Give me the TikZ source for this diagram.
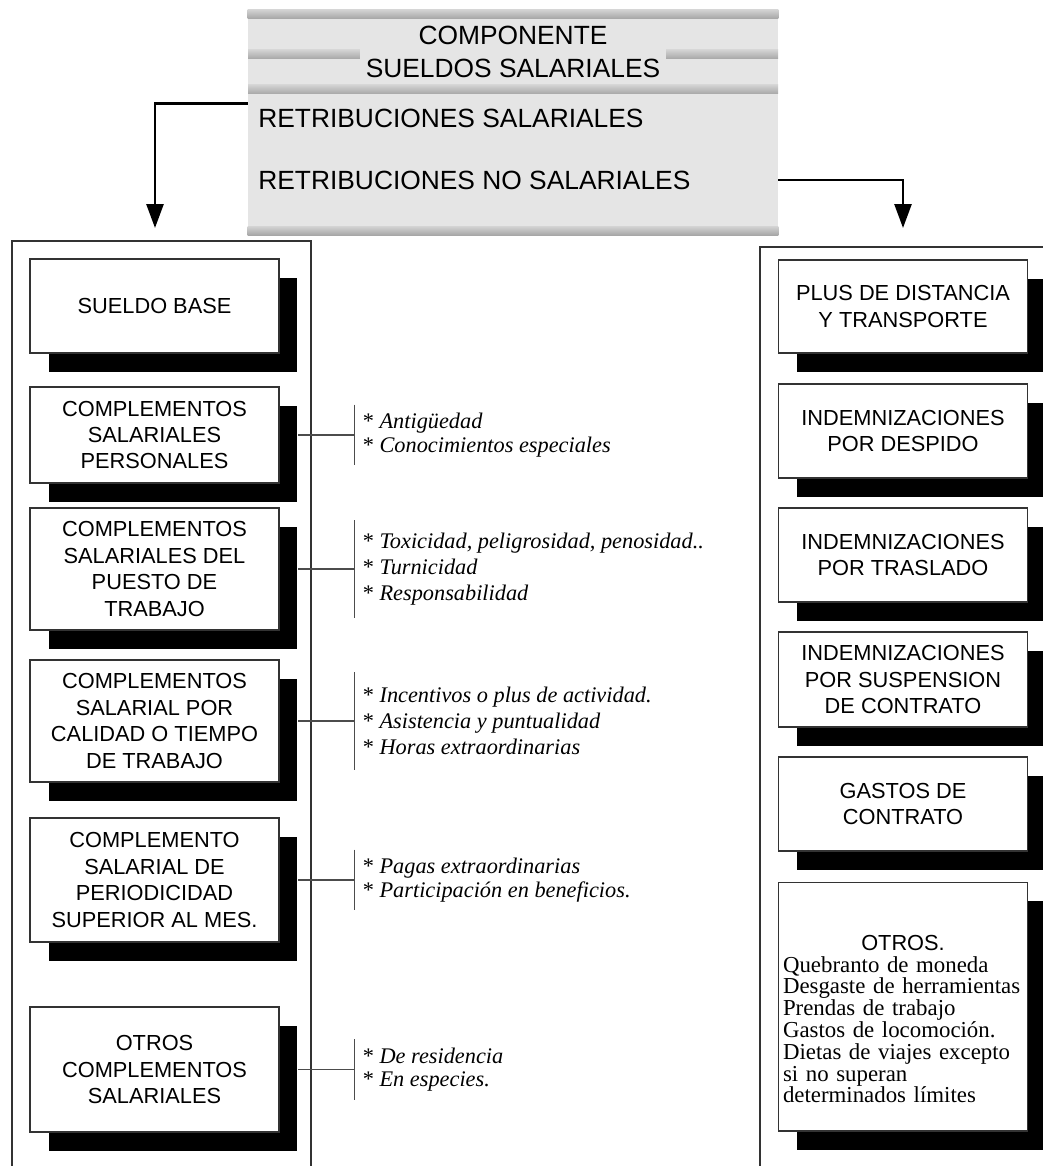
\documentclass[tikz,border=0pt]{standalone}
\usepackage{fontspec}
\setmainfont{Liberation Serif}
\setsansfont{Liberation Sans}
\usetikzlibrary{positioning,shadows,arrows.meta}

\tikzset{
  caja/.style={draw=black!80, line width=0.6pt, fill=white, align=center,
    font=\sffamily\fontsize{12.4}{15}\selectfont, minimum width=4.98cm, inner sep=2pt,
    drop shadow={shadow xshift=0.37cm, shadow yshift=-0.38cm, fill=black, opacity=1}},
  lista/.style={align=left, inner xsep=0.16cm, inner ysep=0pt,
    font=\fontsize{12.7}{13.5}\selectfont},
  lista2/.style={lista, minimum height=1.2cm},
  lista3/.style={lista, minimum height=1.94cm, font=\fontsize{12.7}{15}\selectfont},
  conector/.style={draw=black!70, line width=0.6pt},
  flecha/.style={line width=1.5pt, -{Triangle[length=0.48cm,width=0.34cm]}},
  marco/.style={draw=black!80, line width=0.6pt},
  franja/.style={top color=gray!35, middle color=gray!12, bottom color=gray!70},
  retrib/.style={anchor=west, inner sep=0.1cm, font=\sffamily\fontsize{15}{18}\selectfont}
}

\begin{document}
\lineskiplimit=-20pt
\begin{tikzpicture}[x=0.02cm, y=-0.02cm]
\useasboundingbox (0,0) rectangle (1043,1166);

% cabecera
\node[fill=gray!20, minimum width=10.6cm, minimum height=4.5cm, inner sep=0pt] (comp) at (513,122.5) {};
\shade[franja] (comp.north west) rectangle ([yshift=-0.18cm]comp.north east);
\shade[franja] (248,50) rectangle (778,59);
\shade[franja] (248,85) rectangle (778,94);
\shade[franja] ([yshift=0.18cm]comp.south west) rectangle (comp.south east);
\node[fill=gray!20, minimum width=6.04cm, minimum height=1.3cm, align=center,
  font=\sffamily\fontsize{15}{19}\selectfont] (tit) at (513,52) {COMPONENTE\\SUELDOS SALARIALES};
\node[retrib] (rs) at (253,118) {RETRIBUCIONES SALARIALES};
\node[retrib] (rns) at (253,180) {RETRIBUCIONES NO SALARIALES};

% marcos
\draw[marco] (12,1180) |- (311,241) -- (311,1180);
\draw[marco] (1050,247) -| (760,1180);

\coordinate (finizq) at (155,228);
\coordinate (finder) at (903,228);
\draw[flecha] (rs.north -| comp.west) -| (finizq);
\draw[flecha] (rns.east -| comp.east) -| (finder);

% retribuciones salariales
\node[caja, minimum height=1.88cm] (b1) at (154.5,306) {SUELDO BASE};
\node[caja, minimum height=1.92cm] (b2) at (154.5,435) {COMPLEMENTOS\\SALARIALES\\PERSONALES};
\node[caja, minimum height=2.44cm] (b3) at (154.5,569) {COMPLEMENTOS\\SALARIALES DEL\\PUESTO DE\\TRABAJO};
\node[caja, minimum height=2.44cm] (b4) at (154.5,721) {COMPLEMENTOS\\SALARIAL POR\\CALIDAD O TIEMPO\\DE TRABAJO};
\node[caja, minimum height=2.48cm] (b5) at (154.5,880) {COMPLEMENTO\\SALARIAL DE\\PERIODICIDAD\\SUPERIOR AL MES.};
\node[caja, minimum height=2.5cm] (b6) at (154.5,1069.5) {OTROS\\COMPLEMENTOS\\SALARIALES};

\node[lista2, right=1.5cm of b2] (l2) {* \textit{Antigüedad}\\* \textit{Conocimientos especiales}};
\node[lista3, right=1.5cm of b3] (l3) {* \textit{Toxicidad, peligrosidad, penosidad..}\\* \textit{Turnicidad}\\* \textit{Responsabilidad}};
\node[lista3, right=1.5cm of b4] (l4) {* \textit{Incentivos o plus de actividad.}\\* \textit{Asistencia y puntualidad}\\* \textit{Horas extraordinarias}};
\node[lista2, right=1.5cm of b5] (l5) {* \textit{Pagas extraordinarias}\\* \textit{Participación en beneficios.}};
\node[lista2, right=1.5cm of b6] (l6) {* \textit{De residencia}\\* \textit{En especies.}};

\foreach \b/\l in {b2/l2, b3/l3, b4/l4, b5/l5, b6/l6} {
  \draw[conector] ([xshift=0.37cm]\b.east) -- (\l.west);
  \draw[conector] (\l.north west) -- (\l.south west);
}

% retribuciones no salariales
\node[caja, minimum height=1.86cm] (d1) at (903,306.5) {PLUS DE DISTANCIA\\Y TRANSPORTE};
\node[caja, minimum height=1.88cm] (d2) at (903,431) {INDEMNIZACIONES\\POR DESPIDO};
\node[caja, minimum height=1.88cm] (d3) at (903,555) {INDEMNIZACIONES\\POR TRASLADO};
\node[caja, minimum height=1.9cm] (d4) at (903,679.5) {INDEMNIZACIONES\\POR SUSPENSION\\DE CONTRATO};
\node[caja, minimum height=1.88cm] (d5) at (903,804) {GASTOS DE\\CONTRATO};
\node[caja, minimum height=4.98cm, text width=4.8cm, align=left,
  font=\rmfamily\fontsize{13}{12.4}\selectfont] (d6) at (903,1006.5)
  {\lineskiplimit=-20pt\rule{0pt}{23pt}\makebox[4.8cm]{\sffamily\fontsize{12.4}{12.4}\selectfont OTROS.}\\
   Quebranto de moneda\\Desgaste de herramientas\\Prendas de trabajo\\Gastos de locomoción.\\Dietas de viajes excepto\\si no superan\\determinados límites};
\end{tikzpicture}
\end{document}
